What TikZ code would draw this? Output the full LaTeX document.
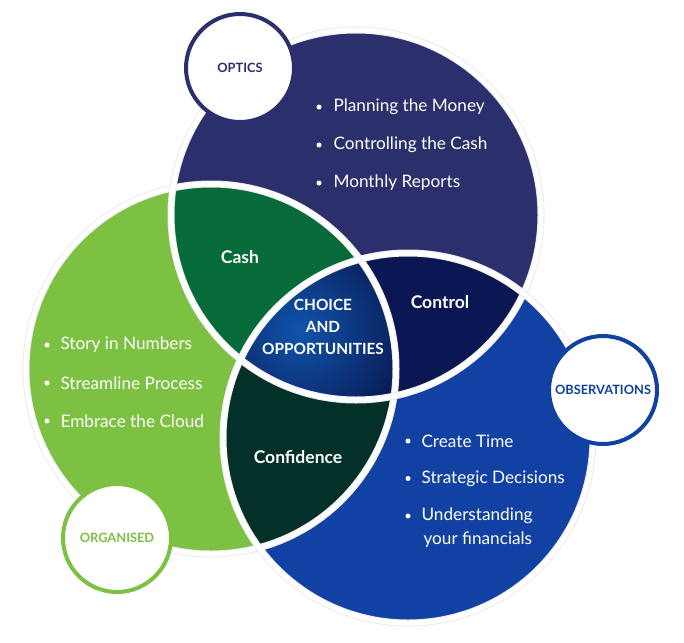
\documentclass[tikz,border=0pt]{standalone}
\usepackage{fontspec}
\setmainfont{Lato}
\usetikzlibrary{positioning}
\definecolor{optnavy}{HTML}{2B2F6C}
\definecolor{orggreen}{HTML}{7DC142}
\definecolor{obsblue}{HTML}{1141A3}
\definecolor{cashgreen}{HTML}{066A3A}
\definecolor{ctrlnavy}{HTML}{0B1752}
\definecolor{confteal}{HTML}{04302A}
\definecolor{coreblue}{HTML}{0F2D8C}
\tikzset{
  bul/.style={anchor=west, text=white, font=\fontsize{17.2}{20}\selectfont},
  dot/.style={circle, fill=white, inner sep=0pt, minimum size=5pt},
  lens/.style={text=white, font=\bfseries\fontsize{17.5}{20}\selectfont},
  tag/.style={circle, draw, line width=4pt, fill=white, minimum size=108pt, inner sep=0pt, font=\bfseries\fontsize{12.8}{15}\selectfont}
}
\begin{document}
\begin{tikzpicture}[x=1pt, y=-1pt]
    \useasboundingbox (0,0) rectangle (684,642);
    % circle centres and radius
    \def\rr{185}
    \coordinate (cO) at (356,215);
    \coordinate (cG) at (211,369);
    \coordinate (cB) at (408,438);

    % big circles
    \fill[orggreen] (cG) circle (\rr);
    \fill[optnavy] (cO) circle (\rr);
    \fill[obsblue] (cB) circle (\rr);

    % pairwise overlaps
    \begin{scope}
      \clip (cG) circle (\rr);
      \fill[cashgreen] (cO) circle (\rr);
      \fill[confteal] (cB) circle (\rr);
    \end{scope}
    \begin{scope}
      \clip (cO) circle (\rr);
      \fill[ctrlnavy] (cB) circle (\rr);
    \end{scope}
    % triple overlap
    \begin{scope}
      \clip (cG) circle (\rr);
      \clip (cO) circle (\rr);
      \clip (cB) circle (\rr);
      \shade[inner color=obsblue!90!cyan, outer color=coreblue!60!black] (300,330) circle (110);
    \end{scope}

    % white borders
    \foreach \c in {cG,cO,cB} {
      \draw[black!8, line width=7pt] (\c) circle (\rr);
      \draw[white, line width=5pt] (\c) circle (\rr);
    }

    % labels in the overlaps
    \node[lens] (cash) at (240,257) {Cash};
    \node[lens] (control) at (440,302) {Control};
    \node[lens] (confidence) at (298,457) {Confidence};
    \node[lens, align=center, font=\bfseries\fontsize{15.4}{22}\selectfont] (core) at (323,327) {CHOICE\\AND\\OPPORTUNITIES};

    % bullet lists
    \foreach \t [count=\i] in {Planning the Money, Controlling the Cash, Monthly Reports} {
      \node[dot] (od\i) at (319,{107+(\i-1)*38}) {};
      \node[bul] (ot\i) at (330,{107+(\i-1)*38}) {\t};
    }
    \foreach \t [count=\i] in {Story in Numbers, Streamline Process, Embrace the Cloud} {
      \node[dot] (gd\i) at (47,{345+(\i-1)*38}) {};
      \node[bul] (gt\i) at (57,{345+(\i-1)*38}) {\t};
    }
    \foreach \t [count=\i] in {Create Time, Strategic Decisions, Understanding} {
      \node[dot] (bd\i) at (408,{441+(\i-1)*37.5}) {};
      \node[bul] (bt\i) at (418,{441+(\i-1)*37.5}) {\t};
    }
    \node[bul] (bt4) at (420,540) {your financials};

    % tag circles
    \node[tag, draw=optnavy, text=optnavy] (optics) at (240,68) {OPTICS};
    \node[tag, draw=obsblue, text=obsblue] (observ) at (603,390) {OBSERVATIONS};
    \node[tag, draw=orggreen, text=orggreen] (organ) at (117,538) {ORGANISED};
\end{tikzpicture}
\end{document}
